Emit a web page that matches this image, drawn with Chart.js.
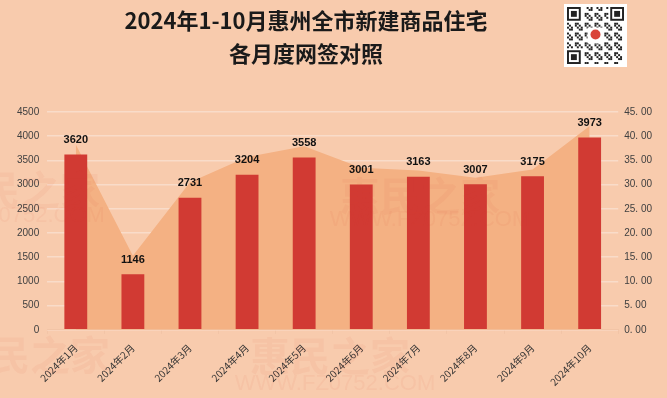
<!DOCTYPE html>
<html>
<head>
<meta charset="utf-8">
<script src="https://cdn.jsdelivr.net/npm/chart.js@4.4.1/dist/chart.umd.min.js"></script>
<style>
  html, body { margin: 0; padding: 0; background: #f8cbad; }
  #wrap { position: relative; width: 667px; height: 398px; overflow: hidden; background: #f8cbad; }
  #title { position: absolute; left: 0; width: 612px; top: 3px; text-align: center;
    font-family: "Noto Sans CJK SC", sans-serif; font-weight: bold; font-size: 22px;
    line-height: 33px; color: #1a1a1a; z-index: 2; }
  canvas { position: absolute; left: 0; top: 0; }
</style>
</head>
<body>
<div id="wrap">
  <canvas id="c" width="667" height="398"></canvas>
  <div id="title">2024年1-10月惠州全市新建商品住宅<br>各月度网签对照</div>
</div>
<script>
const categories = ['2024年1月','2024年2月','2024年3月','2024年4月','2024年5月','2024年6月','2024年7月','2024年8月','2024年9月','2024年10月'];
const signedUnits = [3620, 1146, 2731, 3204, 3558, 3001, 3163, 3007, 3175, 3973];
const areaValues = [38.3, 15.3, 30.5, 35.7, 37.9, 33.5, 32.9, 31.4, 33.1, 42.1];
const leftTicks = [0, 500, 1000, 1500, 2000, 2500, 3000, 3500, 4000, 4500];
const rightTickLabels = ['0. 00','5. 00','10. 00','15. 00','20. 00','25. 00','30. 00','35. 00','40. 00','45. 00'];

const bgPlugin = {
  id: 'bg',
  beforeDraw(chart) {
    const ctx = chart.ctx;
    ctx.save();
    ctx.fillStyle = '#f8cbad';
    ctx.fillRect(0, 0, chart.width, chart.height);
    ctx.restore();
  }
};

const labelPlugin = {
  id: 'barLabels',
  afterDatasetsDraw(chart) {
    const meta = chart.getDatasetMeta(0);
    const ctx = chart.ctx;
    ctx.save();
    ctx.font = 'bold 11px "Liberation Sans", Arial, sans-serif';
    ctx.fillStyle = '#111';
    ctx.textAlign = 'center';
    ctx.textBaseline = 'bottom';
    meta.data.forEach((el, i) => {
      ctx.fillText(String(signedUnits[i]), el.x, el.y - 9);
    });
    ctx.restore();
  }
};

const decoPlugin = {
  id: 'deco',
  afterDraw(chart) {
    const ctx = chart.ctx;
    ctx.save();
    ctx.globalAlpha = 0.06;
    ctx.fillStyle = '#d9443a';
    ctx.font = 'bold 40px "Noto Sans CJK SC", sans-serif';
    ctx.textAlign = 'center';
    ctx.textBaseline = 'middle';
    ctx.fillText('惠民之家', 420, 196);
    ctx.fillText('惠民之家', 330, 356);
    ctx.fillText('民之家', 40, 190);
    ctx.fillText('民之家', 50, 355);
    ctx.font = '22px "Liberation Sans", sans-serif';
    ctx.fillText('WWW.FZ0752.COM', 430, 220);
    ctx.fillText('WWW.FZ0752.COM', 335, 384);
    ctx.fillText('Z0752.COM', 45, 216);
    ctx.restore();

    ctx.save();
    const x0 = 564, y0 = 4, s = 63;
    ctx.fillStyle = '#ffffff';
    ctx.fillRect(x0, y0, s, s);
    const n = 29, cell = (s - 6) / n, ox = x0 + 3, oy = y0 + 3;
    ctx.fillStyle = '#222';
    for (let r = 0; r < n; r++) {
      for (let c = 0; c < n; c++) {
        const inFinder = (r < 8 && c < 8) || (r < 8 && c >= n - 8) || (r >= n - 8 && c < 8);
        if (inFinder) continue;
        if (((r * 7 + c * 13 + r * c) % 5) < 2) ctx.fillRect(ox + c * cell, oy + r * cell, cell, cell);
      }
    }
    const finder = (fx, fy) => {
      ctx.fillStyle = '#222'; ctx.fillRect(fx, fy, cell * 7, cell * 7);
      ctx.fillStyle = '#fff'; ctx.fillRect(fx + cell, fy + cell, cell * 5, cell * 5);
      ctx.fillStyle = '#222'; ctx.fillRect(fx + cell * 2, fy + cell * 2, cell * 3, cell * 3);
    };
    finder(ox, oy);
    finder(ox + (n - 7) * cell, oy);
    finder(ox, oy + (n - 7) * cell);
    ctx.fillStyle = '#fff';
    ctx.fillRect(x0 + s / 2 - 8, y0 + s / 2 - 8, 16, 16);
    ctx.fillStyle = '#d9443a';
    ctx.beginPath(); ctx.arc(x0 + s / 2, y0 + s / 2 - 1, 5, 0, Math.PI * 2); ctx.fill();
    ctx.restore();
  }
};

new Chart(document.getElementById('c'), {
  data: {
    labels: categories,
    datasets: [
      {
        type: 'bar',
        data: signedUnits,
        yAxisID: 'y',
        backgroundColor: '#d13a33',
        borderWidth: 0,
        categoryPercentage: 1.0,
        barPercentage: 0.4,
        order: 1
      },
      {
        type: 'line',
        data: areaValues,
        yAxisID: 'y1',
        fill: 'origin',
        backgroundColor: '#f4b183',
        borderColor: '#f4b183',
        borderWidth: 0,
        pointRadius: 0,
        tension: 0,
        order: 2
      }
    ]
  },
  options: {
    responsive: false,
    animation: false,
    devicePixelRatio: 1,
    layout: { padding: { top: 112, right: 9, bottom: 2, left: 9 } },
    plugins: { legend: { display: false }, tooltip: { enabled: false }, title: { display: false } },
    scales: {
      x: {
        offset: true,
        grid: { display: true, drawOnChartArea: false, drawTicks: true, tickLength: 4, color: '#f2c4a6', offset: true },
        border: { display: true, color: '#f2c4a6' },
        ticks: {
          maxRotation: 45, minRotation: 45, autoSkip: false, padding: 8,
          color: '#333', font: { family: '"Noto Sans CJK SC", sans-serif', size: 10 }
        }
      },
      y: {
        position: 'left',
        min: 0, max: 4500,
        afterBuildTicks(axis) { axis.ticks = leftTicks.map(v => ({ value: v })); },
        grid: { color: '#f9dcc9', lineWidth: 1.5, drawTicks: false },
        border: { display: false },
        ticks: { padding: 8, color: '#404040', font: { family: '"Liberation Sans", Arial, sans-serif', size: 10 },
          callback: (v) => String(v) }
      },
      y1: {
        position: 'right',
        min: 0, max: 45,
        ticks: {
          stepSize: 5, padding: 6, color: '#404040',
          font: { family: '"Liberation Sans", Arial, sans-serif', size: 10 },
          callback: (v, i) => rightTickLabels[i]
        },
        grid: { drawOnChartArea: false, drawTicks: false },
        border: { display: false }
      }
    }
  },
  plugins: [bgPlugin, labelPlugin, decoPlugin]
});
</script>
</body>
</html>
